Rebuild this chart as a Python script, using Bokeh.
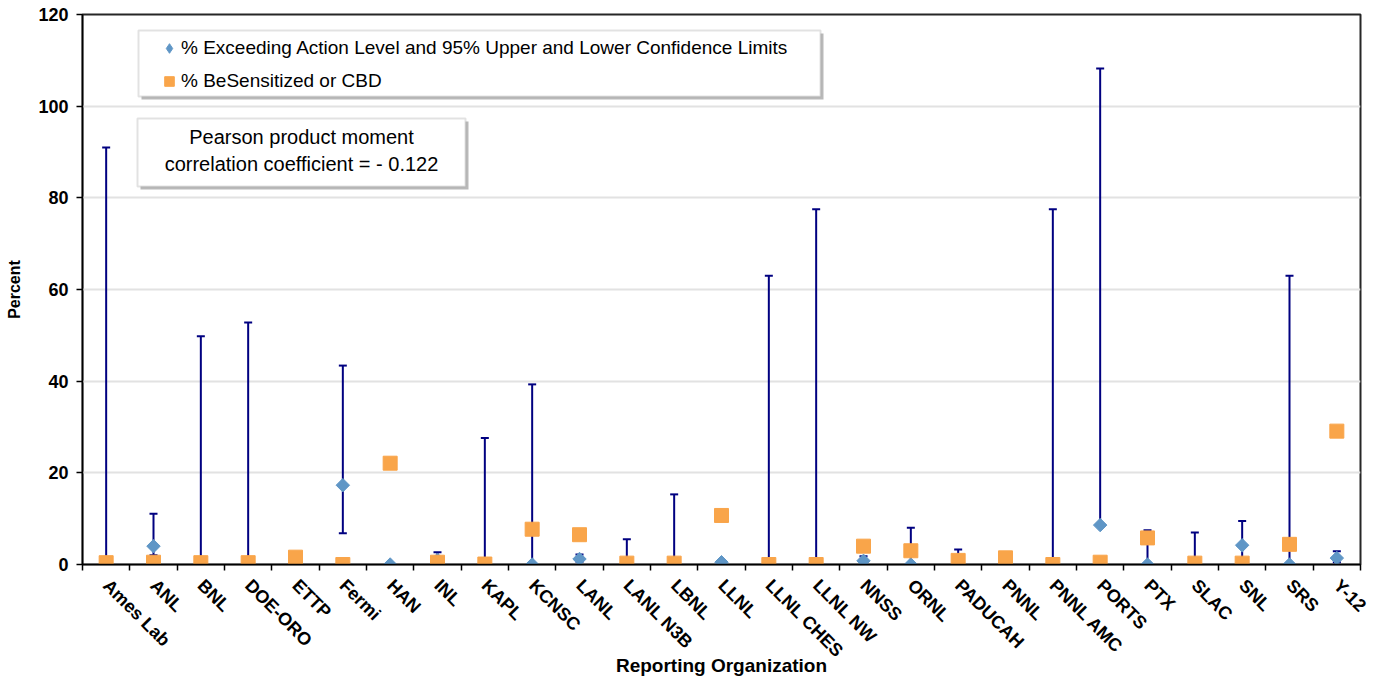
import numpy as np
from bokeh.plotting import figure
from bokeh.models import (ColumnDataSource, Whisker, TeeHead, FixedTicker, Legend,
                          LegendItem, BoxAnnotation, Label, Range1d)
from bokeh.embed import file_html
from bokeh.resources import INLINE

# ---------------- data ----------------
orgs = ["Ames Lab", "ANL", "BNL", "DOE-ORO", "ETTP", "Fermi", "HAN", "INL", "KAPL",
        "KCNSC", "LANL", "LANL N3B", "LBNL", "LLNL", "LLNL CHES", "LLNL NW", "NNSS",
        "ORNL", "PADUCAH", "PNNL", "PNNL AMC", "PORTS", "PTX", "SLAC", "SNL", "SRS", "Y-12"]
exceed_pct = [0.0, 4.0, 0.0, 0.0, 0.0, 17.3, 0.0, 1.0, 0.0, 0.0, 1.2, 0.0, 0.0, 0.5,
              0.0, 0.0, 0.8, 0.0, 0.0, 0.0, 0.0, 8.6, 0.0, 0.0, 4.2, 0.0, 1.4]
exceed_lower = [0.0, 2.0, 0.0, 0.0, 0.0, 6.8, 0.0, 0.3, 0.0, 0.0, 0.6, 0.0, 0.0, 0.5,
                0.0, 0.0, 0.3, 0.0, 0.0, 0.0, 0.0, 8.6, 0.0, 0.0, 0.8, 0.0, 0.5]
exceed_upper = [91.0, 11.1, 49.8, 52.8, 0.0, 43.4, 0.0, 2.7, 27.6, 39.3, 2.2, 5.5, 15.3, 0.5,
                63.0, 77.5, 1.8, 8.0, 3.3, 0.0, 77.5, 108.2, 7.5, 7.0, 9.5, 63.0, 2.9]
besens_pct = [0.4, 0.5, 0.4, 0.4, 1.6, 0.0, 22.1, 0.5, 0.1, 7.7, 6.5, 0.3, 0.3, 10.7,
              0.0, 0.0, 4.0, 3.0, 0.9, 1.45, 0.0, 0.5, 5.8, 0.3, 0.3, 4.4, 29.1]
y_ticks = [0, 20, 40, 60, 80, 100, 120]
grid_ticks = [20, 40, 60, 80, 100]

legend_labels = ["% Exceeding Action Level and 95% Upper and Lower Confidence Limits",
                 "% BeSensitized or CBD"]
note_lines = ["Pearson product moment", "correlation coefficient = - 0.122"]

# ---------------- layout ----------------
W, H = 1370, 679
BL, BR, BT = 82, 10, 14
FW, FH = 1278, 550
BB = H - BT - FH
n = len(orgs)
FRAME_L, FRAME_B = 83.0, 564.0          # page pixels of frame corner


def xd(px):
    return (px - FRAME_L) * n / FW


def yd(py):
    return (FRAME_B - py) * 120.0 / FH


xpos = [i + 0.5 for i in range(n)]
src = ColumnDataSource(dict(x=xpos, exceed=exceed_pct, lower=exceed_lower,
                            upper=exceed_upper, besens=besens_pct))

p = figure(width=W, height=H, x_range=Range1d(0, n), y_range=Range1d(0, 120),
           output_backend="svg", toolbar_location=None,
           min_border_left=BL, min_border_right=BR, min_border_top=BT, min_border_bottom=BB)
p.background_fill_color = "white"
p.border_fill_color = "white"
p.outline_line_color = "#262626"
p.outline_line_width = 2

FONT = "Liberation Sans"

# axes
p.xaxis.ticker = FixedTicker(ticks=xpos, minor_ticks=list(range(n + 1)))
p.xaxis.major_label_overrides = {x: o for x, o in zip(xpos, orgs)}
p.xaxis.major_label_orientation = -np.pi / 4
p.xaxis.major_tick_out = 0
p.xaxis.major_tick_in = 0
p.xaxis.minor_tick_out = 6
p.xaxis.minor_tick_in = 0
p.xaxis.minor_tick_line_color = "black"
p.xaxis.minor_tick_line_width = 1.5
p.xaxis.axis_line_color = "black"
p.xaxis.axis_line_width = 1.5
p.xaxis.major_label_text_font = FONT
p.xaxis.major_label_text_font_style = "bold"
p.xaxis.major_label_text_font_size = "18px"
p.xaxis.major_label_text_color = "black"
p.xaxis.major_label_standoff = 12
p.xaxis.axis_label = "Reporting Organization"
p.xaxis.axis_label_text_font = FONT
p.xaxis.axis_label_text_font_style = "bold"
p.xaxis.axis_label_text_font_size = "19px"
p.xaxis.axis_label_text_color = "black"
p.xaxis.axis_label_standoff = -16

p.yaxis.ticker = FixedTicker(ticks=y_ticks)
p.yaxis.major_tick_out = 6
p.yaxis.major_tick_in = 0
p.yaxis.minor_tick_out = 0
p.yaxis.minor_tick_in = 0
p.yaxis.major_tick_line_color = "black"
p.yaxis.major_tick_line_width = 1.5
p.yaxis.axis_line_color = "black"
p.yaxis.axis_line_width = 1.5
p.yaxis.major_label_text_font = FONT
p.yaxis.major_label_text_font_style = "bold"
p.yaxis.major_label_text_font_size = "18px"
p.yaxis.major_label_text_color = "black"
p.yaxis.major_label_standoff = 8
p.yaxis.axis_label = "Percent"
p.yaxis.axis_label_text_font = FONT
p.yaxis.axis_label_text_font_style = "bold"
p.yaxis.axis_label_text_font_size = "16px"
p.yaxis.axis_label_text_color = "black"
p.yaxis.axis_label_standoff = 12

p.xgrid.visible = False
p.ygrid.ticker = FixedTicker(ticks=grid_ticks)
p.ygrid.grid_line_color = "#e2e2e2"
p.ygrid.grid_line_width = 2

# error bars
bar_col = "#000080"
wh = Whisker(base="x", upper="upper", lower="lower", source=src,
             line_color=bar_col, line_width=2,
             upper_head=TeeHead(size=8, line_color=bar_col, line_width=2),
             lower_head=TeeHead(size=8, line_color=bar_col, line_width=2))
p.add_layout(wh)

blue = "#5F96C6"
orange = "#F9A54A"
r1 = p.scatter("x", "exceed", source=src, marker="square", angle=np.pi / 4, size=9.5,
               fill_color=blue, line_color=blue)
r2 = p.scatter("x", "besens", source=src, marker="square", size=14,
               fill_color=orange, line_color=orange)
# legend-only glyph (diamond shape for the key)
r1_key = p.scatter(x=[np.nan], y=[np.nan], marker="diamond", size=10,
                   fill_color=blue, line_color=blue)

# legend box + shadow
p.add_layout(BoxAnnotation(left=xd(142), right=xd(824), top=yd(33), bottom=yd(99),
                           fill_color="#808080", fill_alpha=0.55, line_alpha=0))
p.add_layout(BoxAnnotation(left=xd(139), right=xd(821), top=yd(30), bottom=yd(96),
                           fill_color="white", fill_alpha=1, line_color="#a0a0a0",
                           line_width=2))

legend = Legend(items=[LegendItem(label=legend_labels[0], renderers=[r1_key]),
                       LegendItem(label=legend_labels[1], renderers=[r2])],
                location=(75, 471), margin=0, padding=0, spacing=9,
                glyph_width=24, glyph_height=24, label_height=24, label_standoff=0,
                label_text_font=FONT, label_text_font_size="19px",
                label_text_color="black",
                border_line_alpha=0, background_fill_alpha=0)
p.add_layout(legend)

# correlation note box + shadow
p.add_layout(BoxAnnotation(left=xd(141), right=xd(469), top=yd(121), bottom=yd(189),
                           fill_color="#808080", fill_alpha=0.55, line_alpha=0))
p.add_layout(BoxAnnotation(left=xd(138), right=xd(466), top=yd(118), bottom=yd(186),
                           fill_color="white", fill_alpha=1, line_color="#a0a0a0",
                           line_width=2))
for line, py in zip(note_lines, [136.7, 163.5]):
    p.add_layout(Label(x=xd(302), y=yd(py), text=line, text_align="center",
                       text_baseline="middle", text_font=FONT, text_font_size="20px",
                       text_color="black"))

open("out.html", "w").write(file_html(p, INLINE))
